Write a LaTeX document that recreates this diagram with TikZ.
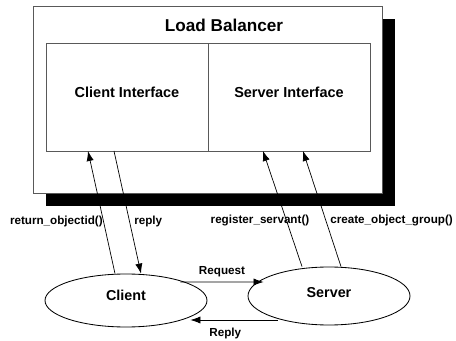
\documentclass[tikz,border=0pt]{standalone}
\usepackage{fontspec}
\setmainfont{Liberation Sans}
\usetikzlibrary{arrows.meta,shapes.geometric,shadows}

\begin{document}
\begin{tikzpicture}[
	box/.style={draw=black!65, line width=0.7pt, rectangle, outer sep=0pt},
	oval/.style={draw, ellipse, line width=0.6pt, minimum width=4.05cm, font=\bfseries\fontsize{10.2}{12}\selectfont},
	msg/.style={font=\bfseries\fontsize{8.3}{10}\selectfont, inner sep=0pt},
	lbl/.style={font=\bfseries\fontsize{8.3}{10}\selectfont},
	pfeil/.style={-{Latex[length=2.5mm,width=1.8mm]}, line width=0.5pt}
	]
	\useasboundingbox (0,0) rectangle (11.4,-8.525);
	
	% Load Balancer mit Schatten
	\node (lb) [box, fill=white, minimum width=8.725cm, minimum height=4.675cm, drop shadow={shadow xshift=0.325cm, shadow yshift=-0.325cm, fill=black, opacity=1}] at (5.1875,-2.4875) {};
	\node (lbtitle) [font=\bfseries\fontsize{12.2}{14}\selectfont] at (5.6,-0.625) {Load Balancer};
	
	% Schnittstellen
	\node (ci) [box, minimum width=4.05cm, minimum height=2.7cm, text depth=0.25cm, font=\bfseries\fontsize{10.3}{12}\selectfont] at (3.175,-2.425) {Client Interface};
	\node (si) [box, minimum width=4.05cm, minimum height=2.7cm, text depth=0.25cm, font=\bfseries\fontsize{10.3}{12}\selectfont, anchor=west] at (ci.east) {Server Interface};
	
	% Client und Server
	\node (cl) [oval, minimum height=1.325cm, text depth=0.275cm] at (3.15,-7.5125) {Client};
	\node (sv) [oval, minimum height=1.45cm, text depth=0.175cm] at (8.225,-7.4) {Server};
	
	% Pfeile zum Load Balancer
	\draw[pfeil] ([xshift=-0.275cm]cl.north) -- ([xshift=-0.975cm]ci.south);
	\draw[pfeil] ([xshift=-0.325cm]ci.south) -- ([xshift=0.375cm]cl.north);
	\draw[pfeil] ([xshift=-0.675cm]sv.north) -- ([xshift=-0.65cm]si.south);
	\draw[pfeil] ([xshift=0.3cm]sv.north) -- ([xshift=0.35cm]si.south);
	
	% Beschriftungen
	\node (retlbl) [msg, anchor=east] at (2.575,-5.525) {return\_objectid()};
	\node (replbl) [msg, anchor=west] at (3.35,-5.525) {reply};
	\node (reglbl) [msg] at (6.5,-5.525) {register\_servant()};
	\node (coglbl) [msg, anchor=west] at (8.25,-5.525) {create\_object\_group()};
	
	% Request und Reply
	\draw[pfeil] ([xshift=-0.675cm,yshift=0.4625cm]cl.east) -- node (req) [lbl, above] {Request} ([xshift=0.4cm,yshift=0.35cm]sv.west);
	\draw[pfeil] ([xshift=0.75cm,yshift=-0.6cm]sv.west) -- node (rep) [lbl, below=2pt, pos=0.6] {Reply} ([xshift=-0.425cm,yshift=-0.4875cm]cl.east);
	
\end{tikzpicture}
\end{document}
